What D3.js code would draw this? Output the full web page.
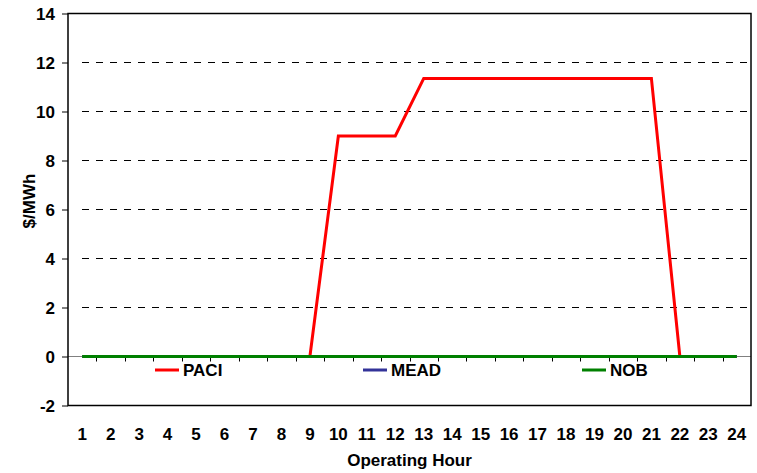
<!DOCTYPE html>
<html>
<head>
<meta charset="utf-8">
<script src="https://cdn.jsdelivr.net/npm/d3@7"></script>
<style>
  body { margin: 0; background: #fff; }
  text { font-family: Arial, "Liberation Sans", sans-serif; font-weight: bold; }
</style>
</head>
<body>
<div id="chart"></div>
<script>
var width = 757,
    height = 473;

var margin = {top: 13.5, right: 6, bottom: 67.5, left: 68};

// Operating hours 1..24
const hours = [1,2,3,4,5,6,7,8,9,10,11,12,13,14,15,16,17,18,19,20,21,22,23,24];

// $/MWh per hour
const paci = [0,0,0,0,0,0,0,0,0,9,9,9,11.35,11.35,11.35,11.35,11.35,11.35,11.35,11.35,11.35,0,0,0];
const mead = [0,0,0,0,0,0,0,0,0,0,0,0,0,0,0,0,0,0,0,0,0,0,0,0];
const nob  = [0,0,0,0,0,0,0,0,0,0,0,0,0,0,0,0,0,0,0,0,0,0,0,0];

const yTicks = [-2,0,2,4,6,8,10,12,14];

const series = [
  {name: "PACI", values: paci, color: "#ff0000"},
  {name: "MEAD", values: mead, color: "#333399"},
  {name: "NOB",  values: nob,  color: "#008000"}
];

var svg = d3.select('#chart').append('svg')
  .attr('width', width)
  .attr('height', height);

var x = d3.scaleBand()
  .domain(hours)
  .range([margin.left, width - margin.right]);

var y = d3.scaleLinear()
  .domain([-2, 14])
  .range([height - margin.bottom, margin.top]);

// dashed gridlines
svg.append('g')
  .selectAll('line')
  .data(yTicks.filter(d => d !== 0 && d !== 14))
  .enter().append('line')
  .attr('x1', x.range()[0] + 14)
  .attr('x2', x.range()[1])
  .attr('y1', d => y(d))
  .attr('y2', d => y(d))
  .attr('stroke', '#000')
  .attr('stroke-width', 1)
  .attr('stroke-dasharray', '7,7');

// y axis
var yAxis = svg.append('g')
  .attr('transform', 'translate(' + margin.left + ',0)')
  .call(d3.axisLeft(y).tickValues(yTicks).tickSize(6).tickPadding(7).tickFormat(d => String(d)));
yAxis.select('.domain').remove();
yAxis.selectAll('.tick line').attr('stroke', '#000');
yAxis.selectAll('text').attr('font-size', 17).attr('fill', '#000').attr('dy', '0.36em');

// zero line with ticks at band edges
svg.append('line')
  .attr('x1', x.range()[0]).attr('x2', x.range()[1])
  .attr('y1', y(0)).attr('y2', y(0))
  .attr('stroke', '#808080').attr('stroke-width', 1);

svg.append('g')
  .selectAll('line')
  .data(hours.slice(1))
  .enter().append('line')
  .attr('x1', d => Math.round(x(d)) + 0.5).attr('x2', d => Math.round(x(d)) + 0.5)
  .attr('y1', y(0)).attr('y2', y(0) + 5)
  .attr('stroke', '#000');

// x labels
svg.append('g')
  .selectAll('text')
  .data(hours)
  .enter().append('text')
  .attr('x', d => x(d) + x.bandwidth() / 2)
  .attr('y', 440)
  .attr('text-anchor', 'middle')
  .attr('font-size', 17)
  .text(d => d);

// plot frame
svg.append('rect')
  .attr('x', x.range()[0])
  .attr('y', y(14))
  .attr('width', x.range()[1] - x.range()[0])
  .attr('height', y(-2) - y(14))
  .attr('fill', 'none')
  .attr('stroke', '#000')
  .attr('stroke-width', 1.5);

// lines
var line = d3.line()
  .x((d, i) => x(hours[i]) + x.bandwidth() / 2)
  .y(d => y(d));

series.forEach(function(s) {
  svg.append('path')
    .datum(s.values)
    .attr('d', line)
    .attr('fill', 'none')
    .attr('stroke', s.color)
    .attr('stroke-width', 3)
    .attr('stroke-linejoin', 'miter');
});

// legend
var legendX = [155, 363, 582];
var legend = svg.append('g')
  .selectAll('g')
  .data(series)
  .enter().append('g')
  .attr('transform', (d, i) => 'translate(' + legendX[i] + ',370)');
legend.append('line')
  .attr('x1', 0).attr('x2', 24)
  .attr('stroke', d => d.color)
  .attr('stroke-width', 3);
legend.append('text')
  .attr('x', 28)
  .attr('y', 6)
  .attr('font-size', 17)
  .text(d => d.name);

// axis titles
svg.append('text')
  .attr('transform', 'translate(35,201) rotate(-90)')
  .attr('text-anchor', 'middle')
  .attr('font-size', 17)
  .text('$/MWh');

svg.append('text')
  .attr('x', (x.range()[0] + x.range()[1]) / 2)
  .attr('y', 466)
  .attr('text-anchor', 'middle')
  .attr('font-size', 17)
  .text('Operating Hour');
</script>
</body>
</html>
